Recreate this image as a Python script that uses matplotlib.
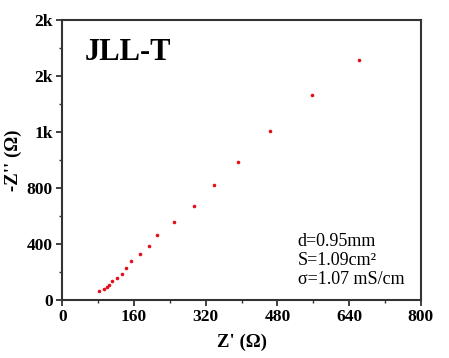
import matplotlib
matplotlib.use("Agg")
import matplotlib.pyplot as plt
from matplotlib.ticker import MultipleLocator, FuncFormatter, AutoMinorLocator

# impedance data
z_real = [82.2, 92.0, 98.7, 104.5, 111.2, 121.0, 132.8, 142.4, 152.2, 173.7,
          193.0, 211.1, 248.3, 293.7, 338.3, 392.6, 463.3, 557.8, 661.2]
z_imag = [62.6, 79.7, 94.0, 108.0, 131.7, 158.0, 186.0, 226.0, 273.3, 325.0,
          385.0, 465.5, 555.5, 669.4, 818.5, 985.0, 1203.0, 1460.9, 1711.0]

sample_name = "JLL-T"
info_lines = ["d=0.95mm", "S=1.09cm²", "σ=1.07 mS/cm"]

plt.rcParams['font.family'] = ['Liberation Serif', 'DejaVu Serif']

fig = plt.figure(figsize=(4.49, 3.58), dpi=100)
ax = fig.add_axes([0.139, 0.163, 0.798, 0.781])

ax.plot(z_real, z_imag, 'o', color='#e3101c', markersize=2.6, markeredgewidth=0)

ax.set_xlim(0, 800)
ax.set_ylim(0, 2000)
ax.xaxis.set_major_locator(MultipleLocator(160))
ax.yaxis.set_major_locator(MultipleLocator(400))
ax.xaxis.set_minor_locator(AutoMinorLocator(2))
ax.yaxis.set_minor_locator(AutoMinorLocator(2))

def kfmt(v, pos):
    if v >= 1000:
        return f"{v/1000:.0f}k"
    return f"{v:.0f}"

ax.yaxis.set_major_formatter(FuncFormatter(kfmt))

for s in ax.spines.values():
    s.set_linewidth(1.5)
    s.set_color('#333333')
ax.tick_params(which='major', direction='out', length=4, width=1.3, color='#333333',
               labelsize=12.5, pad=3)
ax.tick_params(which='minor', direction='out', length=2.5, width=1.0, color='#333333')
for lab in ax.get_xticklabels() + ax.get_yticklabels():
    lab.set_fontweight('bold')

ax.set_xlabel("Z' (Ω)", fontsize=13.5, fontweight='bold', labelpad=6)
ax.set_ylabel("-Z'' (Ω)", fontsize=13.5, fontweight='bold', labelpad=3)

ax.text(0.063, 0.857, sample_name, transform=ax.transAxes, fontsize=22,
        fontweight='bold', va='baseline', ha='left')

baselines = [0.191, 0.124, 0.0555]
for line, yb in zip(info_lines, baselines):
    ax.text(0.657, yb, line, transform=ax.transAxes, fontsize=13,
            va='baseline', ha='left')

fig.savefig("out.png", dpi=100)
